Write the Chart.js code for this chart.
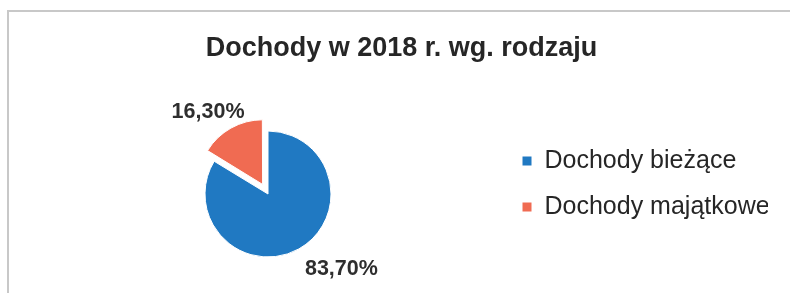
<!DOCTYPE html>
<html>
<head>
<meta charset="utf-8">
<script src="https://cdn.jsdelivr.net/npm/chart.js@4.4.1/dist/chart.umd.min.js"></script>
<style>
  body { margin: 0; background: #fff; }
  #wrap { position: relative; width: 790px; height: 293px; }
  #frame {
    position: absolute; left: 7px; top: 10px; right: -4px; bottom: -4px;
    border-left: 2px solid #c8c8c8; border-top: 2px solid #c8c8c8;
  }
</style>
</head>
<body>
<div id="wrap">
  <div id="frame"></div>
  <canvas id="PieChart"></canvas>
</div>
<script>
// values
var categories = ['Dochody bieżące', 'Dochody majątkowe'];
var shares = [83.70, 16.30];
var sliceColors = ['#2079c2', '#f06b52'];

// where each percentage sits relative to its slice (degrees / px)
var labelShift = [-15, -7.5];
var labelGap = [42, 28];

function pct(v) {
    return v.toFixed(2).replace('.', ',') + '%';
}

// draws the "83,70%" style labels outside the slices
var sliceLabels = {
    id: 'sliceLabels',
    afterDatasetsDraw: function(chart) {
        var ctx = chart.ctx;
        var meta = chart.getDatasetMeta(0);
        ctx.save();
        ctx.font = 'bold 21.5px "Liberation Sans", Arial, sans-serif';
        ctx.fillStyle = '#2e2e2e';
        ctx.textAlign = 'center';
        ctx.textBaseline = 'middle';
        meta.data.forEach(function(arc, i) {
            var p = arc.getProps(['x', 'y', 'startAngle', 'endAngle', 'outerRadius'], true);
            var mid = (p.startAngle + p.endAngle) / 2;
            var push = (arc.options.offset || 0) / 4;
            var a = mid + labelShift[i] * Math.PI / 180;
            var r = p.outerRadius + labelGap[i];
            var x = p.x + Math.cos(mid) * push + Math.cos(a) * r;
            var y = p.y + Math.sin(mid) * push + Math.sin(a) * r;
            ctx.fillText(pct(shares[i]), x, y);
        });
        ctx.restore();
    }
};

var ctx = document.getElementById('PieChart').getContext('2d');

var chart = new Chart(ctx, {
    type: 'pie',
    data: {
        labels: categories,
        datasets: [{
            data: shares,
            backgroundColor: sliceColors,
            borderColor: '#ffffff',
            borderWidth: 1,
            offset: [0, 44],
            hoverOffset: 0,
            radius: 63
        }]
    },
    options: {
        responsive: true,
        maintainAspectRatio: false,
        animation: false,
        layout: {
            padding: { left: 35, right: 22, top: 75, bottom: 0 }
        },
        plugins: {
            title: {
                display: true,
                text: 'Dochody w 2018 r. wg. rodzaju',
                color: '#262626',
                font: { family: '"Liberation Sans", Arial, sans-serif', size: 27, weight: 'bold' },
                padding: { top: -42.2, bottom: 29.8 }
            },
            legend: {
                position: 'right',
                maxWidth: 267,
                labels: {
                    boxWidth: 10,
                    boxHeight: 10,
                    padding: 21,
                    color: '#262626',
                    font: { family: '"Liberation Sans", Arial, sans-serif', size: 25, lineHeight: 1 }
                }
            },
            tooltip: { enabled: false }
        }
    },
    plugins: [sliceLabels]
});
</script>
</body>
</html>
